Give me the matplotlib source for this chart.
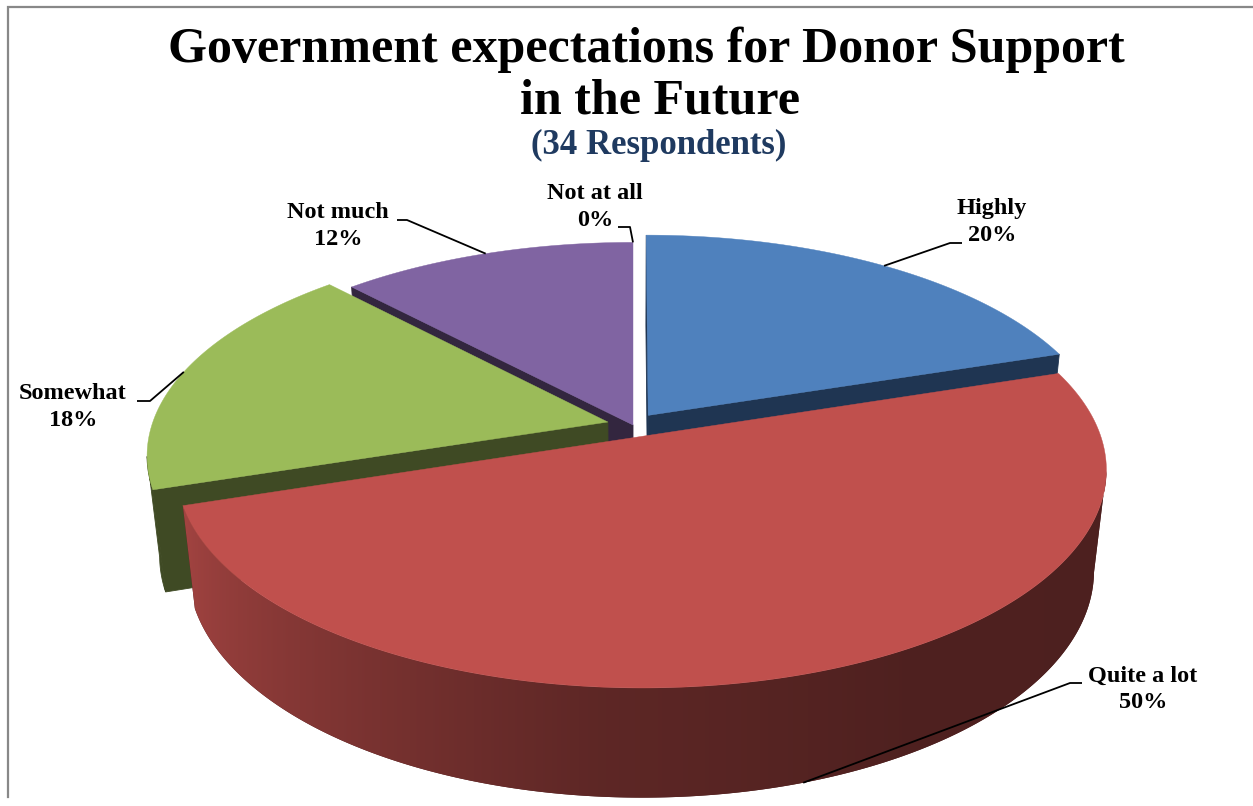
import numpy as np
import matplotlib.pyplot as plt
from matplotlib.patches import Polygon
from matplotlib.colors import to_rgb

plt.rcParams['font.family'] = ['Liberation Serif', 'DejaVu Serif']

# survey answers (percent of respondents)
labels = ["Highly", "Quite a lot", "Somewhat", "Not much", "Not at all"]
percents = [20, 50, 18, 12, 0]
top_colors = ["#4F81BD", "#C0504D", "#9BBB59", "#8064A2", "#F79646"]
side_colors = ["#1F3552", "#4B1E1E", "#3F4A24", "#33263F", "#7A4A22"]
explode = [0.057, 0.057, 0.057, 0.0, 0.0]
wall_gradient = [False, True, False, False, False]

title = "Government expectations for Donor Support"
title2 = "in the Future"
subtitle = "(34 Respondents)"

# label layout in pixel coordinates (y grows downwards)
label_xy = [(992, 222), (1143, 689), (73, 407), (338, 226), (595, 207)]
elbow_xy = [(950, 243), (1070, 683), (150, 401), (407, 220), (630, 227)]
line_end = [(962, 243), (1082, 683), (137, 401), (397, 220), (618, 227)]

W, H = 1253, 806
CX, CY = 633, 425      # pie centre on screen
RX, RY = 456, 210      # radii of the top ellipse
K = 0.15               # perspective along the depth axis
KZ = 0.026             # perspective along the height axis
DEPTH = 102            # thickness of the pie

fig = plt.figure(figsize=(W / 100, H / 100), dpi=100)
ax = fig.add_axes([0, 0, 1, 1])
ax.set_xlim(0, W)
ax.set_ylim(H, 0)
ax.axis("off")

cam = np.array([0.0, -1.0 / K])


def proj(u, v, z=0.0):
    s = 1.0 / (1.0 + K * v - KZ * z)
    return CX + RX * u * s, CY - (RY * v + DEPTH * z) * s


def wall_factor(theta):
    t = (theta + 180.0) % 360.0 - 180.0
    return np.interp(t, [-180, -160, -130, -95, -60, 0],
                     [0.86, 0.84, 0.68, 0.49, 0.41, 0.40])


def poly(pts, color, z, lw=0.6):
    p = Polygon(pts, closed=True, facecolor=color, edgecolor=color,
                linewidth=lw, zorder=z)
    ax.add_patch(p)
    return p


# slice geometry, clockwise from 12 o'clock
total = float(sum(percents))
slices = []
start = 90.0
for i, p in enumerate(percents):
    sweep = 360.0 * p / total
    a1, a0 = start, start - sweep
    start = a0
    mid = np.radians((a0 + a1) / 2)
    off = explode[i] * np.array([np.cos(mid), np.sin(mid)])
    slices.append(dict(i=i, a0=a0, a1=a1, mid=mid, off=off))

order = sorted(slices, key=lambda s: -np.sin(s["mid"]))
z = 1
for sl in order:
    i, a0, a1, off = sl["i"], sl["a0"], sl["a1"], sl["off"]
    if percents[i] == 0:
        continue
    ou, ov = off
    # radial faces that look towards the viewer
    for phi, psi in [(a0, a0 - 90), (a1, a1 + 90)]:
        n = np.array([np.cos(np.radians(psi)), np.sin(np.radians(psi))])
        if n @ (cam - off) > 1e-9:
            eu, ev = ou + np.cos(np.radians(phi)), ov + np.sin(np.radians(phi))
            pts = [proj(ou, ov, 0), proj(eu, ev, 0), proj(eu, ev, -1), proj(ou, ov, -1)]
            poly(pts, side_colors[i], z)
            z += 1
    # outer wall: visible part of the rim
    th = np.linspace(a0, a1, 400)
    vis = []
    for t in th:
        n = np.array([np.cos(np.radians(t)), np.sin(np.radians(t))])
        if n @ (cam - (off + n)) > 0:
            vis.append(t)
    if len(vis) > 1:
        vis = np.array(vis)
        r = np.radians(vis)
        top = [proj(ou + np.cos(a), ov + np.sin(a), 0) for a in r]
        bot = [proj(ou + np.cos(a), ov + np.sin(a), -1) for a in r]
        if wall_gradient[i]:
            wall = poly(top + bot[::-1], side_colors[i], z, lw=0)
            xs = np.array([p[0] for p in top])
            fs = wall_factor(vis)
            srt = np.argsort(xs)
            gx = np.linspace(xs.min(), xs.max(), 600)
            gf = np.interp(gx, xs[srt], fs[srt])
            img = np.array(to_rgb(top_colors[i]))[None, None, :] * gf[None, :, None]
            ys = [p[1] for p in top + bot]
            im = ax.imshow(np.clip(img, 0, 1), extent=(gx[0], gx[-1], max(ys), min(ys)),
                           aspect="auto", interpolation="bilinear", zorder=z + 0.5)
            im.set_clip_path(wall)
        else:
            poly(top + bot[::-1], side_colors[i], z)
        z += 1
    # top face
    tt = np.radians(np.linspace(a0, a1, 300))
    pts = [proj(ou, ov, 0)] + [proj(ou + np.cos(t), ov + np.sin(t), 0) for t in tt]
    poly(pts, top_colors[i], z, lw=0.3)
    z += 1

ax.set_xlim(0, W)
ax.set_ylim(H, 0)

# data labels with leader lines
for sl in slices:
    i = sl["i"]
    ou, ov = sl["off"]
    m = sl["mid"]
    depth = -1 if np.sin(m) < -0.5 else 0
    px, py = proj(ou + np.cos(m), ov + np.sin(m), depth)
    ex, ey = elbow_xy[i]
    lx, ly = line_end[i]
    ax.plot([px, ex, lx], [py, ey, ly], color="black", lw=1.3, zorder=500,
            solid_capstyle="butt")
    ax.text(label_xy[i][0], label_xy[i][1], f"{labels[i]}\n{percents[i]}%",
            ha="center", va="center", fontsize=17.5, fontweight="bold",
            linespacing=1.32, zorder=600)

# titles
ax.text(646, 62, title, ha="center", va="baseline", fontsize=36, fontweight="bold")
ax.text(660, 114, title2, ha="center", va="baseline", fontsize=36, fontweight="bold")
ax.text(659, 154, subtitle, ha="center", va="baseline", fontsize=25,
        fontweight="bold", color="#1F3A60")

# chart-area border
ax.plot([7.5, 7.5, W], [797, 6.5, 6.5], color="#888888", lw=1.6, zorder=700,
        solid_joinstyle="miter")

fig.savefig("out.png", dpi=100)
